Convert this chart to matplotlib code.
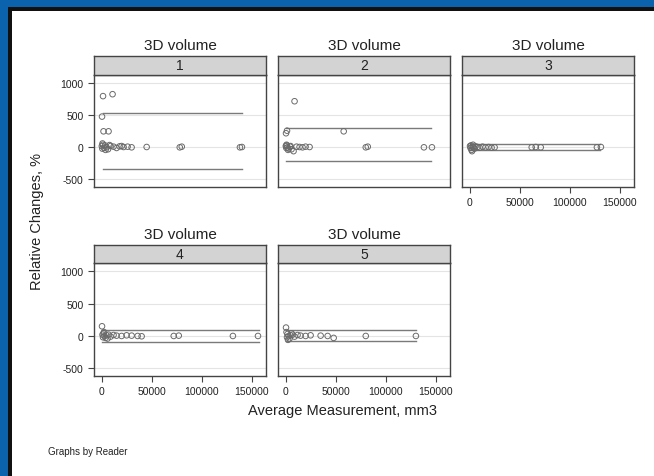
import matplotlib
matplotlib.use("Agg")
import matplotlib.pyplot as plt
from matplotlib.patches import Rectangle

plt.rcParams['font.family'] = ['Liberation Sans', 'DejaVu Sans']

# average measurement (mm3) and relative change (%) per reader
x1 = [1500, 11000, 500, 2000, 7000, 300, 800, 1200, 2500, 3500, 5000, 6500, 9000,
      12000, 15000, 18000, 22000, 26000, 30000, 45000, 78000, 80000, 138000, 140000,
      1000, 4000, 8000, 20000]
y1 = [800, 830, 480, 250, 250, 20, -20, 40, -10, 30, 0, -30, 20, 10, -10, 15, 5, 10,
      0, 5, 0, 10, 0, 5, 60, -40, 35, 20]

x2 = [9000, 500, 1500, 58000, 300, 800, 1200, 2000, 3000, 4500, 6000, 8000, 11000,
      14000, 17000, 20000, 24000, 80000, 82000, 138000, 146000, 1000, 2500, 5000]
y2 = [720, 220, 260, 250, 20, -10, 30, 0, -20, 10, -30, -60, 10, 5, 0, 10, 5, 0, 10,
      0, 0, 40, -40, 20]

x3 = [500, 1000, 1500, 2000, 3000, 4000, 5000, 6000, 8000, 10000, 13000, 16000, 19000,
      22000, 25000, 62000, 66000, 71000, 127000, 131000, 2500, 3500]
y3 = [20, -10, 30, -40, 10, 0, -20, 15, 5, -5, 10, 0, 5, -5, 0, 0, 5, 0, 0, 5, -60, 40]

x4 = [500, 1000, 1500, 2000, 3000, 4000, 5000, 7000, 9000, 12000, 15000, 20000, 25000,
      30000, 36000, 40000, 72000, 77000, 131000, 156000, 2500, 6000]
y4 = [150, 20, -20, 40, 0, -30, 10, 20, -10, 15, 5, 0, 10, 5, 0, -5, 0, 5, 0, 0, 60, -40]

x5 = [500, 1000, 1500, 2000, 3000, 4000, 5000, 7000, 9000, 12000, 15000, 20000, 25000,
      35000, 42000, 48000, 80000, 130000, 2500, 6000]
y5 = [130, 60, -20, 30, 0, -40, 10, 20, -10, 15, 5, 0, 10, 5, 0, -30, 0, 0, -60, 40]

# limits of agreement (upper, lower) and x extent of the lines
loa_hi = [530, 300, 45, 95, 85]
loa_lo = [-340, -215, -45, -90, -85]
line_x0 = [1000, 0, 0, 0, 0]
line_x1 = [140000, 145000, 130000, 157000, 130000]

readers = ['1', '2', '3', '4', '5']
xs = [x1, x2, x3, x4, x5]
ys = [y1, y2, y3, y4, y5]

yticks = [1000, 500, 0, -500]
xticks = [0, 50000, 100000, 150000]

W, H = 654, 477
fig = plt.figure(figsize=(W/100, H/100), dpi=100)
fig.patch.set_facecolor('#0b63ae')
fig.patches.append(Rectangle((8/W, 0), 1, 1 - 8/H, transform=fig.transFigure,
                             facecolor='#111111', edgecolor='none', zorder=-10))
fig.patches.append(Rectangle((12/W, 0), 1, 1 - 12/H, transform=fig.transFigure,
                             facecolor='white', edgecolor='none', zorder=-9))

# panel boxes in pixels: left, plot top, plot bottom, strip top
lefts = [94, 278, 462, 94, 278]
tops = [76, 76, 76, 264, 264]
bottoms = [188, 188, 188, 377, 377]
strip_tops = [57, 57, 57, 246, 246]
pw = 172

for i in range(5):
    l, t, b, st = lefts[i], tops[i], bottoms[i], strip_tops[i]
    ax = fig.add_axes([l/W, 1 - b/H, pw/W, (b - t)/H])
    ax.set_xlim(-7500, 164000)
    ax.set_ylim(-620, 1130)
    for yv in yticks:
        ax.axhline(yv, color='#e4e4e4', lw=0.8, zorder=1)
    ax.plot([line_x0[i], line_x1[i]], [loa_hi[i], loa_hi[i]], color='#7a7a7a', lw=1.0, zorder=2)
    ax.plot([line_x0[i], line_x1[i]], [loa_lo[i], loa_lo[i]], color='#7a7a7a', lw=1.0, zorder=2)
    ax.scatter(xs[i], ys[i], s=16, facecolors='none', edgecolors='#6a6a6a',
               linewidths=0.7, zorder=3)
    for sp in ax.spines.values():
        sp.set_color('#444444')
        sp.set_linewidth(1.0)
    ax.set_yticks(yticks)
    ax.set_xticks(xticks)
    ax.tick_params(colors='#444444', labelcolor='#222222', labelsize=7.5,
                   length=4, width=0.8)
    if i in (0, 3):
        ax.set_yticklabels([str(v) for v in yticks])
    else:
        ax.tick_params(axis='y', left=False, labelleft=False)
    if i in (2, 3, 4):
        ax.set_xticklabels([str(v) for v in xticks])
    else:
        ax.tick_params(axis='x', bottom=False, labelbottom=False)

    sax = fig.add_axes([l/W, 1 - t/H, pw/W, (t - st)/H])
    sax.set_facecolor('#d3d3d3')
    sax.set_xticks([])
    sax.set_yticks([])
    for sp in sax.spines.values():
        sp.set_color('#444444')
        sp.set_linewidth(1.0)
    sax.text(0.5, 0.5, readers[i], ha='center', va='center', fontsize=10,
             color='#222222', transform=sax.transAxes)
    fig.text((l + pw/2)/W, 1 - (st - 11)/H, '3D volume', ha='center', va='center',
             fontsize=11, color='#222222')

fig.text(37/W, 1 - 222/H, 'Relative Changes, %', rotation=90, ha='center',
         va='center', fontsize=10.5, color='#222222')
fig.text(342/W, 1 - 411/H, 'Average Measurement, mm3', ha='center', va='center',
         fontsize=10.5, color='#222222')
fig.text(48/W, 1 - 452/H, 'Graphs by Reader', ha='left', va='center',
         fontsize=7, color='#222222')

fig.savefig('out.png', dpi=100, facecolor=fig.get_facecolor())
